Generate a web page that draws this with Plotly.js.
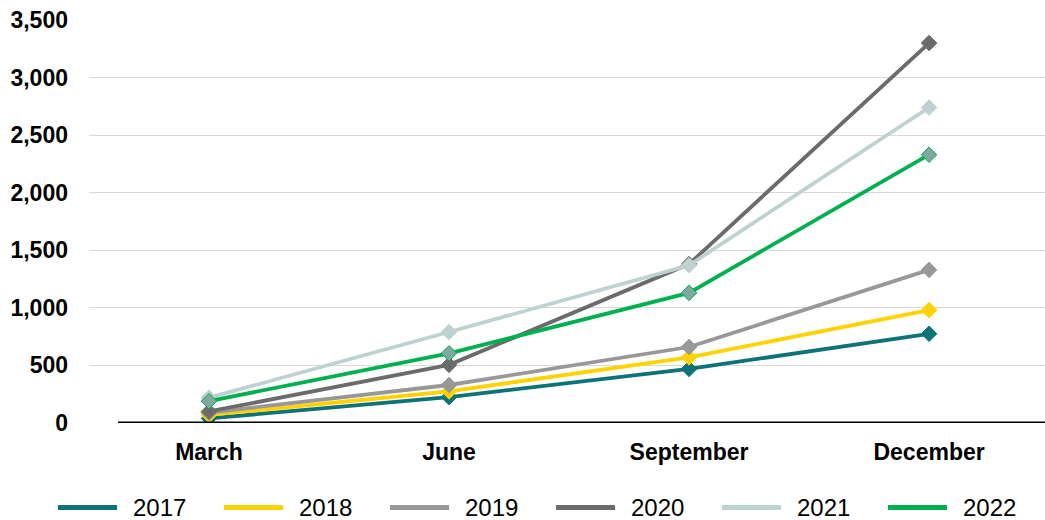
<!DOCTYPE html>
<html>
<head>
<meta charset="utf-8">
<script src="https://cdn.plot.ly/plotly-3.0.1.min.js"></script>
<style>html,body{margin:0;padding:0;background:#fff;}#chart{width:1045px;height:520px;}</style>
</head>
<body>
<div id="chart"></div>
<script>
const categories = ["March", "June", "September", "December"];
const seriesNames = ["2017", "2018", "2019", "2020", "2021", "2022"];
const v2017 = [40, 225, 470, 775];
const v2018 = [70, 275, 570, 980];
const v2019 = [90, 330, 660, 1330];
const v2020 = [100, 505, 1380, 3300];
const v2021 = [220, 790, 1370, 2740];
const v2022 = [190, 605, 1130, 2330];
const yTicks = [0, 500, 1000, 1500, 2000, 2500, 3000, 3500];

const seriesValues = [v2017, v2018, v2019, v2020, v2021, v2022];
const lineColors = ["#0e7378", "#ffd200", "#98989a", "#6b6b6d", "#bdd2d1", "#00b050"];
const markerFills = ["#0e7378", "#ffd200", "#98989a", "#6b6b6d", "#bdd2d1", "#7fa89f"];

const traces = seriesNames.map((name, i) => ({
  type: "scatter",
  mode: "lines+markers",
  name: name,
  x: categories,
  y: seriesValues[i],
  line: {color: lineColors[i], width: 3.8},
  marker: {symbol: "diamond", size: 12, color: markerFills[i], line: {color: lineColors[i], width: 1}},
  showlegend: false
}));

// plot area geometry (px)
const L = 89, R = 1045, T = 20, B = 423;
const W = R - L, H = B - T;
const px2x = p => (p - L) / W;
const px2y = p => (B - p) / H;

const shapes = [{
  type: "line", xref: "x", yref: "y",
  x0: -0.5 + (118 - L) / 240, x1: 3.483, y0: 0, y1: 0,
  line: {color: "#000", width: 3}, layer: "above"
}];
const annotations = [];
seriesNames.forEach((name, i) => {
  const off = 166 * i;
  shapes.push({
    type: "line", xref: "paper", yref: "paper",
    x0: px2x(58 + off), x1: px2x(117 + off),
    y0: px2y(507.5), y1: px2y(507.5),
    line: {color: lineColors[i], width: 5}
  });
  annotations.push({
    xref: "paper", yref: "paper",
    x: px2x(131 + off), y: px2y(507.5),
    xanchor: "left", yanchor: "middle",
    text: name, showarrow: false,
    font: {family: "Liberation Sans, Arial, sans-serif", size: 24, color: "#000"}
  });
});

const layout = {
  width: 1045, height: 520,
  margin: {l: L, r: 1045 - R, t: T, b: 520 - B, pad: 0},
  paper_bgcolor: "#fff", plot_bgcolor: "#fff",
  showlegend: false,
  font: {family: "Liberation Sans, Arial, sans-serif", color: "#000"},
  xaxis: {
    type: "category",
    range: [-0.5, 3.483],
    showgrid: false, zeroline: false, showline: false,
    ticks: "",
    ticklabelstandoff: 13,
    tickfont: {size: 23, weight: "bold", color: "#000"},
    fixedrange: true
  },
  yaxis: {
    range: [0, 3500],
    tickvals: yTicks,
    tickformat: ",",
    showgrid: true, gridcolor: "#d9d9d9", gridwidth: 1,
    zeroline: false, showline: false,
    ticks: "",
    ticklabelstandoff: 20,
    tickfont: {size: 23, weight: "bold", color: "#000"},
    fixedrange: true
  },
  shapes: shapes,
  annotations: annotations
};

Plotly.newPlot("chart", traces, layout, {displayModeBar: false, staticPlot: true});
</script>
</body>
</html>
